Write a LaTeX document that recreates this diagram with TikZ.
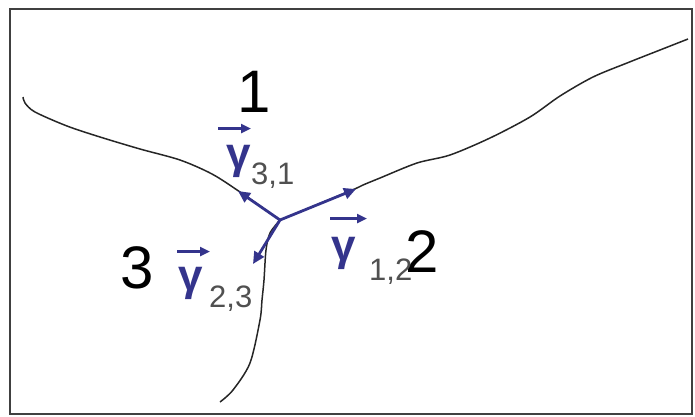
\documentclass[tikz,border=0pt]{standalone}
\usepackage{fontspec}
\setmainfont{Liberation Sans}
\usetikzlibrary{arrows.meta}
\definecolor{flowblue}{RGB}{52,52,140}
\definecolor{subgray}{RGB}{80,80,80}
\tikzset{
  frame/.style={draw=black!75, line width=1.6pt},
  boundary/.style={draw=black!85, line width=1.5pt},
  flow/.style={draw=flowblue, line width=2.8pt, -{Triangle[length=12pt,width=11pt]}},
  vecarrow/.style={draw=flowblue, line width=2.2pt, -{Triangle[length=10pt,width=9pt]}},
  grainlabel/.style={font=\fontsize{60}{60}\selectfont, inner sep=0pt},
  gammalabel/.style={font=\fontsize{44}{44}\selectfont\bfseries, text=flowblue, inner sep=0pt, anchor=base west},
  sublabel/.style={font=\fontsize{31}{31}\selectfont, text=subgray, inner sep=0pt, anchor=base west}
}

\begin{document}
\begin{tikzpicture}[x=1pt,y=-1pt]
\useasboundingbox (0,0) rectangle (695,416);
\draw[frame] (10,9) rectangle (692,414);

% triple junction and grain boundaries
\coordinate (j) at (280,220);
\draw[boundary] plot[smooth] coordinates {(j) (240,192) (212,174) (180,160) (140,149) (100,137) (67,126) (35,112) (25,103) (23,97)};
\draw[boundary] plot[smooth] coordinates {(j) (350,191) (363,185) (380,178) (417,163) (450,155) (490,138) (530,117) (560,96) (593,77) (627,63) (660,50) (688,39)};
\draw[boundary] plot[smooth] coordinates {(j) (270,233) (266,250) (264,280) (262,300) (260,320) (250,363) (233,390) (220,402)};

\coordinate (t31) at (238,191);
\coordinate (t12) at (356,189);
\coordinate (t23) at (253,264);
\draw[flow] (j) -- (t31);
\draw[flow] (j) -- (t12);
\draw[flow] (j) -- (t23);

% grains
\node[grainlabel] (n1) at (254,92) {1};
\node[grainlabel] (n2) at (422,252) {2};
\node[grainlabel] (n3) at (137,268) {3};

% line tensions
\node[gammalabel] (g31) at (226,168) {γ};
\node[sublabel] (s31) at (251,184) {3,1};
\draw[vecarrow] ([shift={(-8,-16)}]g31.north west) -- ++(33,0);

\node[gammalabel] (g12) at (331,260) {γ};
\node[sublabel] (s12) at (369,280) {1,2};
\draw[vecarrow] ([shift={(-1,-18)}]g12.north west) -- ++(37,0);

\node[gammalabel] (g23) at (178,290) {γ};
\node[sublabel] (s23) at (209,307) {2,3};
\draw[vecarrow] ([shift={(-1,-15)}]g23.north west) -- ++(33,0);
\end{tikzpicture}
\end{document}
